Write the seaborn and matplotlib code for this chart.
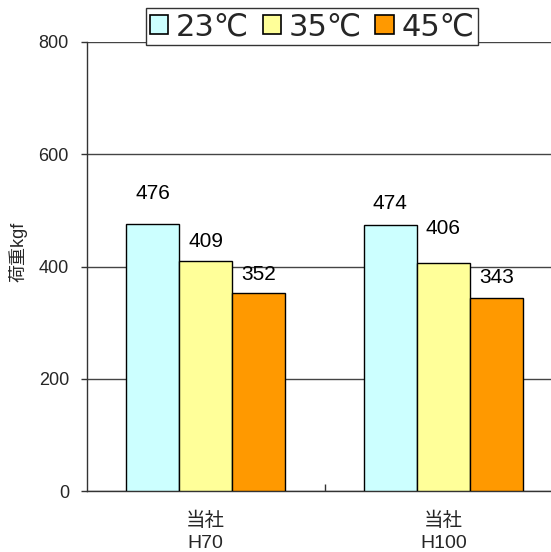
import matplotlib
matplotlib.use("Agg")
import matplotlib.pyplot as plt
from matplotlib.patches import Patch
from matplotlib.ticker import FixedLocator
from matplotlib.font_manager import FontProperties
import seaborn as sns
import pandas as pd

# Data
products = ["当社\nH70", "当社\nH100"]
temps = ["23℃", "35℃", "45℃"]
load_h70 = [476, 409, 352]
load_h100 = [474, 406, 343]
colors = ["#CCFFFF", "#FFFF99", "#FF9900"]

rows = []
for prod, vals in zip(products, [load_h70, load_h100]):
    for t, v in zip(temps, vals):
        rows.append({"product": prod, "temp": t, "load": v})
df = pd.DataFrame(rows)

sns.set_style("white")
plt.rcParams["font.family"] = ["Liberation Sans", "Noto Sans CJK JP", "DejaVu Sans"]

fig = plt.figure(figsize=(5.51, 5.52), dpi=100)
ax = fig.add_axes([87 / 551, 1 - 491 / 552, 475 / 551, 449 / 552])

sns.barplot(data=df, x="product", y="load", hue="temp", palette=colors,
            order=products, hue_order=temps, width=0.67, gap=0,
            edgecolor="black", linewidth=1.0, saturation=1, ax=ax, legend=False,
            zorder=3)

ax.set_ylim(0, 800)
ax.set_xlim(-0.5, 1.5)
ax.set_yticks([0, 200, 400, 600, 800])
ax.yaxis.grid(True, color="#444444", linewidth=1.0, zorder=0)
ax.set_axisbelow(True)
for side in ["top", "right"]:
    ax.spines[side].set_visible(False)
for side in ["left", "bottom"]:
    ax.spines[side].set_color("#333333")
    ax.spines[side].set_linewidth(1.0)

ax.tick_params(axis="y", direction="out", length=4, width=1, color="#333333",
               labelsize=13, pad=9, left=True)
ax.tick_params(axis="x", which="major", length=0, labelsize=14, pad=15)
ax.xaxis.set_minor_locator(FixedLocator([0.5]))
ax.tick_params(axis="x", which="minor", direction="in", length=5, width=1,
               color="#333333", bottom=True)
for lbl in ax.get_xticklabels():
    lbl.set_linespacing(1.4)

ax.set_xlabel("")
ax.set_ylabel("荷重kgf", fontsize=13)
ax.yaxis.set_label_coords(-(87 - 28) / 475, 1 - (252 - 42) / 449)

# value labels above each bar
label_offsets = [[30, 20, 19], [21, 35, 21]]
for hi, cont in enumerate(ax.containers):
    for pi, bar in enumerate(cont):
        v = bar.get_height()
        ax.annotate(f"{int(round(v))}",
                    xy=(bar.get_x() + bar.get_width() / 2, v),
                    xytext=(0, label_offsets[pi][hi] * 0.72),
                    textcoords="offset points", ha="center", va="center",
                    fontsize=15, color="black")

legend_font = FontProperties(family=["DejaVu Sans", "Noto Sans CJK JP"], size=22)
handles = [Patch(facecolor=c, edgecolor="black", linewidth=1.2) for c in colors]
leg = fig.legend(handles, temps, loc="center", bbox_to_anchor=(312 / 551, 1 - 26.5 / 552),
                 ncol=3, prop=legend_font, frameon=True, fancybox=False,
                 handlelength=0.6, handleheight=0.6, handletextpad=0.25,
                 columnspacing=0.45, borderpad=0.12, borderaxespad=0)
leg.get_frame().set_edgecolor("#333333")
leg.get_frame().set_linewidth(1.0)
leg.get_frame().set_alpha(1)

fig.savefig("out.png", dpi=100)
